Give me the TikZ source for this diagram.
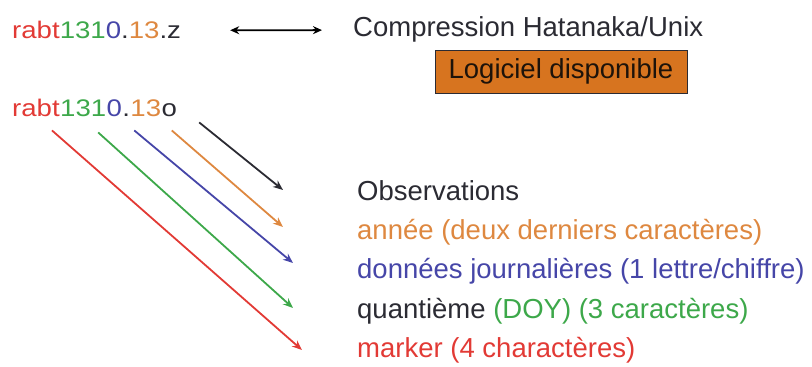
\documentclass[tikz,border=0pt]{standalone}
\usepackage{fontspec}
\setmainfont{Liberation Sans}
\newfontfamily\fnfont{Liberation Sans}[FakeStretch=1.15]
\usetikzlibrary{arrows.meta,positioning}
\definecolor{mkred}{HTML}{E23A35}
\definecolor{doygreen}{HTML}{3DA84A}
\definecolor{dayblue}{HTML}{4646A8}
\definecolor{yrorange}{HTML}{DE8840}
\definecolor{boxorange}{HTML}{D7741F}
\definecolor{inkgray}{HTML}{2B2B33}

\tikzset{
  fname/.style={inner sep=0pt, font=\fnfont\fontsize{24}{29}\selectfont},
  lbl/.style={inner sep=0pt, anchor=base west, text=inkgray, font=\fontsize{27.5}{33}\selectfont},
  arr/.style={line width=1.8pt, -{Stealth[length=10pt,width=8pt]}},
}

\begin{document}
\begin{tikzpicture}[x=1pt,y=1pt]
	\useasboundingbox (0,0) rectangle (812,367);
	% compressed file name
	\node[fname, anchor=base west] (zname) at (12,328) {\textcolor{mkred}{rabt}\textcolor{doygreen}{131}\textcolor{dayblue}{0}\textcolor{inkgray}{.}\textcolor{yrorange}{13}\textcolor{inkgray}{.z}};
	\node[lbl] (compr) at (353,330) {Compression Hatanaka/Unix};
	\node[draw=inkgray, fill=boxorange, line width=0.8pt, minimum width=252pt, minimum height=43pt, inner sep=0pt, text=black!85!brown, font=\fontsize{27.5}{33}\selectfont] (soft) at (561,295.5) {Logiciel disponible};
	\draw[line width=1.8pt, {Stealth[length=9pt,width=8pt]}-{Stealth[length=9pt,width=8pt]}, shorten <=49pt, shorten >=31pt] (zname) -- (compr);
	% observation file name, piece by piece
	\node[fname, anchor=base west, text=mkred] (mk) at (12,250) {rabt};
	\node[fname, base right=0pt of mk, text=doygreen] (doy) {131};
	\node[fname, base right=0pt of doy, text=dayblue] (day) {0};
	\node[fname, base right=0pt of day, text=inkgray] (dot) {.};
	\node[fname, base right=0pt of dot, text=yrorange] (yr) {13};
	\node[fname, base right=0pt of yr, text=inkgray] (obs) {o};
	% meanings
	\node[lbl] (tobs) at (357,166) {Observations};
	\node[lbl, text=yrorange] (tyr) at (357,127) {année (deux derniers caractères)};
	\node[lbl, text=dayblue] (tday) at (357,88) {données journalières (1 lettre/chiffre)};
	\node[lbl] (tdoy) at (357,48) {quantième \textcolor{doygreen}{(DOY) (3 caractères)}};
	\node[lbl, text=mkred] (tmk) at (357,9) {marker (4 charactères)};
	% arrows
	\draw[arr, inkgray] ([xshift=30pt,yshift=-5pt]obs.south) -- ([xshift=-74pt,yshift=11pt]tobs.base west);
	\draw[arr, yrorange] ([xshift=26pt,yshift=-13pt]yr.south) -- ([xshift=-74pt,yshift=13pt]tyr.base west);
	\draw[arr, dayblue] ([xshift=20pt,yshift=-13pt]day.south) -- ([xshift=-64pt,yshift=16pt]tday.base west);
	\draw[arr, doygreen] ([xshift=15pt,yshift=-15pt]doy.south) -- ([xshift=-64pt,yshift=11pt]tdoy.base west);
	\draw[arr, mkred] ([xshift=16pt,yshift=-13pt]mk.south) -- ([xshift=-55pt,yshift=8pt]tmk.base west);
\end{tikzpicture}
\end{document}
